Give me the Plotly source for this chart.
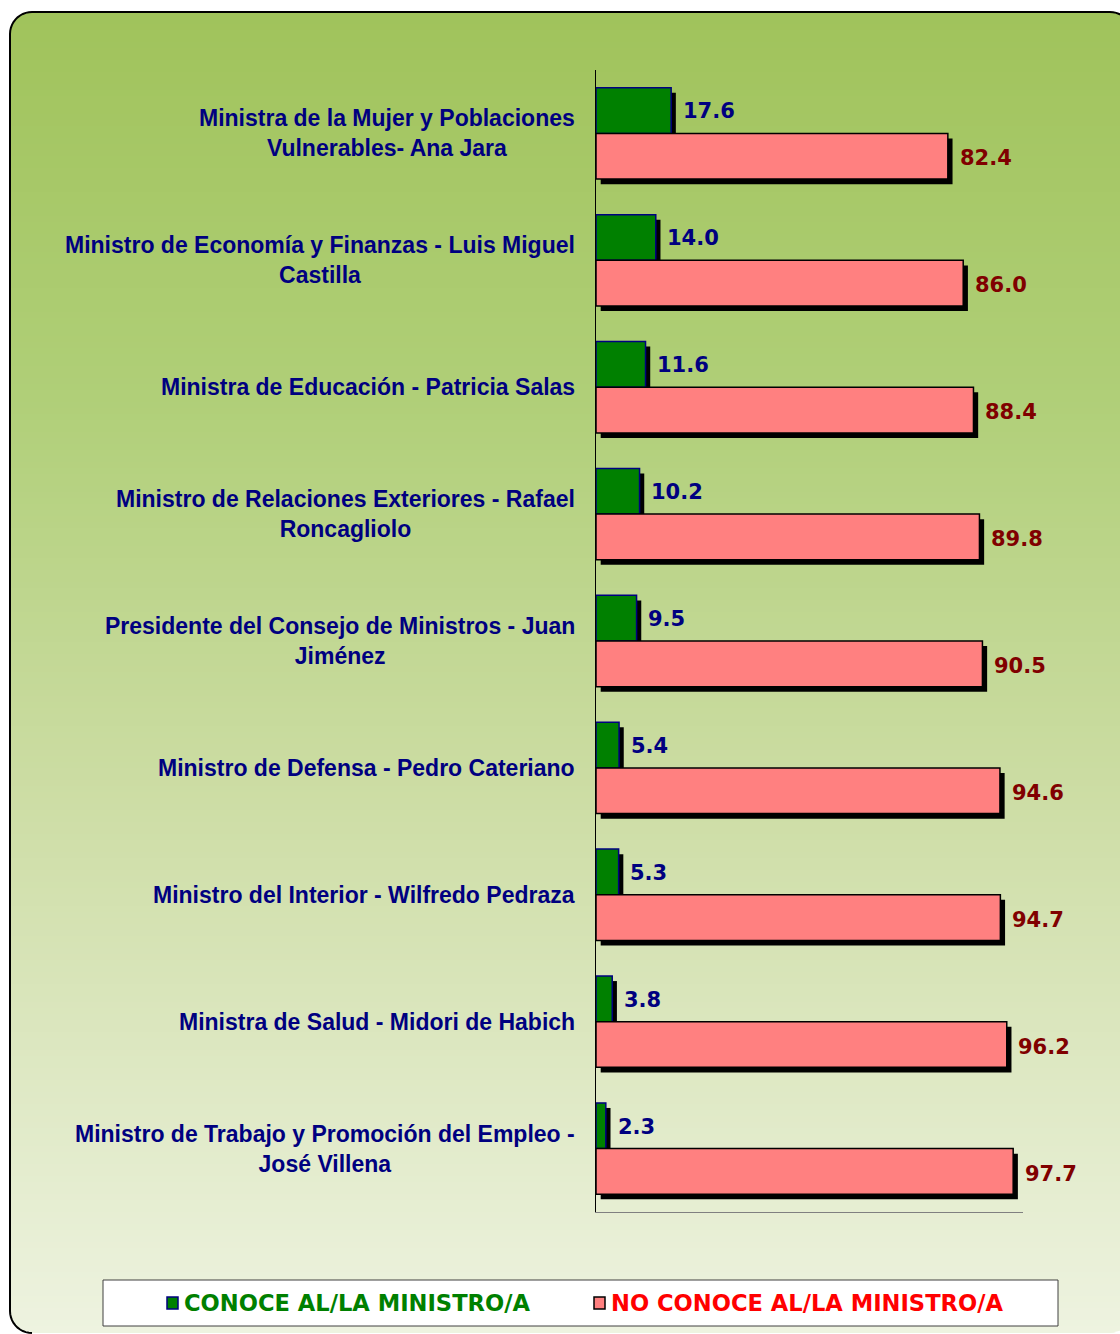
import numpy as np
import plotly.graph_objects as go

# ---------------- data ----------------
categories = [
    "Ministra de la Mujer y Poblaciones<br>Vulnerables- Ana Jara",
    "Ministro de Economía y Finanzas - Luis Miguel<br>Castilla",
    "Ministra de Educación - Patricia Salas",
    "Ministro de Relaciones Exteriores - Rafael<br>Roncagliolo",
    "Presidente del Consejo de Ministros - Juan<br>Jiménez",
    "Ministro de Defensa - Pedro Cateriano",
    "Ministro del Interior - Wilfredo Pedraza",
    "Ministra de Salud - Midori de Habich",
    "Ministro de Trabajo y Promoción del Empleo -<br>José Villena",
]
conoce = [17.6, 14.0, 11.6, 10.2, 9.5, 5.4, 5.3, 3.8, 2.3]
no_conoce = [82.4, 86.0, 88.4, 89.8, 90.5, 94.6, 94.7, 96.2, 97.7]
series_names = ["CONOCE AL/LA MINISTRO/A", "NO CONOCE AL/LA MINISTRO/A"]

# ---------------- geometry helpers ----------------
W, H = 1120, 1334


def X(px):
    return px / W


def Y(py):
    return 1 - py / H


GREEN = "#008000"
PINK = "#ff8080"
NAVY = "#000080"
MAROON = "#800000"
BW = 0.36        # bar thickness (category units)
SH_X = 1.1       # shadow shift (value units)
SH_Y = 0.04      # shadow shift (category units)

fig = go.Figure()

# shadows
fig.add_trace(go.Bar(y=categories, x=conoce, base=SH_X, orientation="h",
                     offset=-BW + SH_Y, width=BW, marker=dict(color="black", line=dict(width=0)),
                     showlegend=False, hoverinfo="skip"))
fig.add_trace(go.Bar(y=categories, x=no_conoce, base=SH_X, orientation="h",
                     offset=SH_Y, width=BW, marker=dict(color="black", line=dict(width=0)),
                     showlegend=False, hoverinfo="skip"))
# bars
fig.add_trace(go.Bar(name=series_names[0], y=categories, x=conoce, orientation="h",
                     offset=-BW, width=BW,
                     marker=dict(color=GREEN, line=dict(color=NAVY, width=1.5)),
                     showlegend=False))
fig.add_trace(go.Bar(name=series_names[1], y=categories, x=no_conoce, orientation="h",
                     offset=0, width=BW,
                     marker=dict(color=PINK, line=dict(color="black", width=1.5)),
                     showlegend=False))

annotations = []
# category labels
for c in categories:
    annotations.append(dict(xref="paper", yref="y", x=X(577), y=c, xanchor="right", yanchor="middle",
                            text=c, align="center", showarrow=False,
                            font=dict(family="Liberation Sans", size=23, color=NAVY, weight="bold")))
# value labels
for c, v in zip(categories, conoce):
    annotations.append(dict(xref="x", yref="y", x=v + SH_X, y=c, xanchor="left", yanchor="middle",
                            xshift=5, yshift=22, text=f"{v:.1f}", showarrow=False,
                            font=dict(family="DejaVu Sans", size=21, color=NAVY, weight="bold")))
for c, v in zip(categories, no_conoce):
    annotations.append(dict(xref="x", yref="y", x=v + SH_X, y=c, xanchor="left", yanchor="middle",
                            xshift=5, yshift=-25, text=f"{v:.1f}", showarrow=False,
                            font=dict(family="DejaVu Sans", size=21, color=MAROON, weight="bold")))
# legend texts
annotations.append(dict(xref="paper", yref="paper", x=X(182), y=Y(1303), xanchor="left", yanchor="middle",
                        text=series_names[0], showarrow=False,
                        font=dict(family="DejaVu Sans", size=22.6, color=GREEN, weight="bold")))
annotations.append(dict(xref="paper", yref="paper", x=X(609), y=Y(1303), xanchor="left", yanchor="middle",
                        text=series_names[1], showarrow=False,
                        font=dict(family="DejaVu Sans", size=22.6, color="#ff0000", weight="bold")))

# ---------------- background (gradient rounded panel) ----------------
shapes = []
RX0, RY0, RX1, RY1, RR = 10, 12, 1132, 1333, 22


def left_edge(y):
    if y < RY0 + RR:
        dy = RY0 + RR - y
    elif y > RY1 - RR:
        dy = y - (RY1 - RR)
    else:
        return RX0
    return RX0 + RR - np.sqrt(max(RR * RR - dy * dy, 0))


def right_edge(y):
    if y < RY0 + RR:
        dy = RY0 + RR - y
    elif y > RY1 - RR:
        dy = y - (RY1 - RR)
    else:
        return RX1
    return RX1 - RR + np.sqrt(max(RR * RR - dy * dy, 0))


stop_y = [12, 400, 800, 1334]
stop_rgb = np.array([[160, 195, 91], [176, 207, 120], [205, 221, 165], [238, 243, 224]])
step = 6
ys = np.arange(RY0, RY1, step)
for ya in ys:
    yb = min(ya + step + 1, RY1)
    yc = (ya + yb) / 2
    rgb = [int(round(np.interp(yc, stop_y, stop_rgb[:, k]))) for k in range(3)]
    pts_y = np.linspace(ya, yb, 4)
    left = [(left_edge(y), y) for y in pts_y]
    right = [(right_edge(y), y) for y in pts_y[::-1]]
    pts = left + right
    path = "M " + " L ".join(f"{X(px):.5f},{Y(py):.5f}" for px, py in pts) + " Z"
    shapes.append(dict(type="path", xref="paper", yref="paper", path=path,
                       fillcolor=f"rgb({rgb[0]},{rgb[1]},{rgb[2]})", line=dict(width=0), layer="below"))

# border of panel
theta = np.linspace(0, np.pi / 2, 12)
border = []
for t in theta:  # bottom-left corner
    border.append((RX0 + RR - RR * np.sin(t), RY1 - RR + RR * np.cos(t)))
for t in theta[::-1]:  # top-left corner
    border.append((RX0 + RR - RR * np.sin(t), RY0 + RR - RR * np.cos(t)))
for t in theta:  # top-right corner
    border.append((RX1 - RR + RR * np.sin(t), RY0 + RR - RR * np.cos(t)))
bpath = "M " + " L ".join(f"{X(px):.5f},{Y(py):.5f}" for px, py in border)
shapes.append(dict(type="path", xref="paper", yref="paper", path=bpath,
                   line=dict(color="black", width=2), layer="below"))

# legend box and markers
shapes.append(dict(type="rect", xref="paper", yref="paper", x0=X(103), x1=X(1058), y0=Y(1326), y1=Y(1280),
                   fillcolor="white", line=dict(color="#404040", width=1), layer="below"))
shapes.append(dict(type="rect", xref="paper", yref="paper", x0=X(167), x1=X(178), y0=Y(1309), y1=Y(1297),
                   fillcolor=GREEN, line=dict(color=NAVY, width=1.5), layer="above"))
shapes.append(dict(type="rect", xref="paper", yref="paper", x0=X(594), x1=X(605), y0=Y(1309), y1=Y(1297),
                   fillcolor=PINK, line=dict(color="black", width=1.5), layer="above"))

fig.update_layout(
    width=W, height=H,
    margin=dict(l=0, r=0, t=0, b=0, pad=0),
    barmode="overlay",
    paper_bgcolor="white",
    plot_bgcolor="rgba(0,0,0,0)",
    font=dict(family="Liberation Sans"),
    xaxis=dict(domain=[X(596), X(1023)], range=[0, 100], showgrid=False, zeroline=False,
               showticklabels=False, ticks="", showline=True, linecolor="#808080", linewidth=1,
               fixedrange=True),
    yaxis=dict(domain=[Y(1212), Y(70)], type="category", range=[8.5, -0.5], showgrid=False,
               zeroline=False, showticklabels=False, ticks="", showline=True, linecolor="black",
               linewidth=1, fixedrange=True),
    annotations=annotations,
    shapes=shapes,
    showlegend=False,
)

fig.write_html("out.html", config={"displayModeBar": False},
               post_script="document.body.style.margin='0';")
